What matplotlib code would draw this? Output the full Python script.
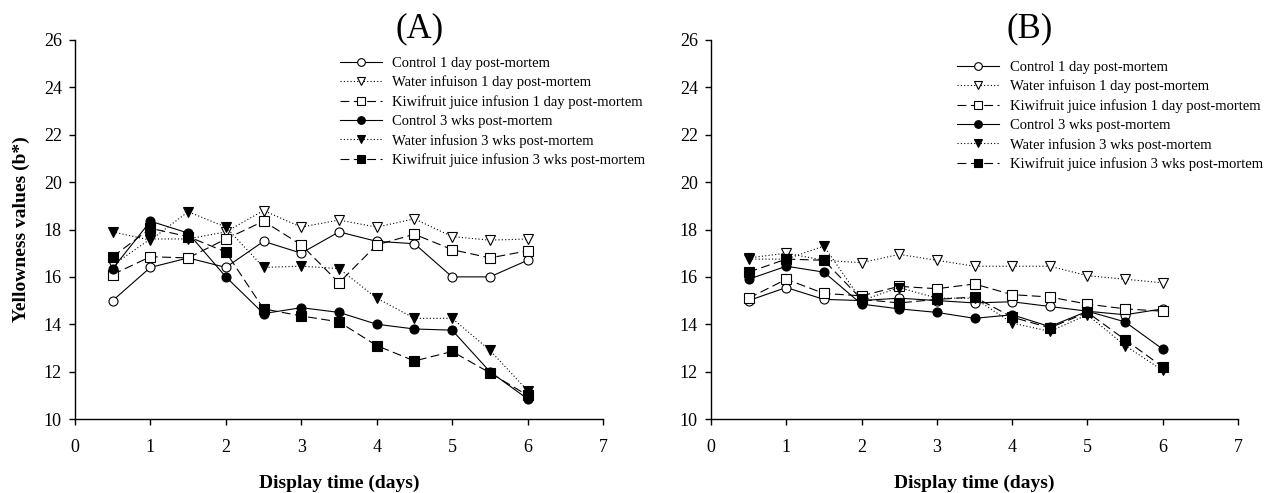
import matplotlib
matplotlib.use("Agg")
import matplotlib.pyplot as plt

plt.rcParams['font.family'] = ['Liberation Serif', 'DejaVu Serif']

days = [0.5, 1, 1.5, 2, 2.5, 3, 3.5, 4, 4.5, 5, 5.5, 6]

labels = [
    "Control 1 day post-mortem",
    "Water infuison 1 day post-mortem",
    "Kiwifruit juice infusion 1 day post-mortem",
    "Control 3 wks post-mortem",
    "Water infusion 3 wks post-mortem",
    "Kiwifruit juice infusion 3 wks post-mortem",
]

# Panel A
a_control_1d = [15.0, 16.4, 16.8, 16.4, 17.5, 17.0, 17.9, 17.5, 17.4, 16.0, 16.0, 16.7]
a_water_1d = [16.5, 17.6, 17.6, 17.9, 18.8, 18.1, 18.4, 18.1, 18.45, 17.7, 17.55, 17.6]
a_kiwi_1d = [16.1, 16.85, 16.8, 17.6, 18.35, 17.35, 15.75, 17.35, 17.8, 17.15, 16.8, 17.1]
a_control_3w = [16.35, 18.35, 17.85, 16.0, 14.45, 14.7, 14.5, 14.0, 13.8, 13.75, 12.0, 10.85]
a_water_3w = [17.9, 17.55, 18.75, 18.1, 16.4, 16.45, 16.35, 15.1, 14.25, 14.25, 12.9, 11.2]
a_kiwi_3w = [16.85, 18.05, 17.7, 17.05, 14.65, 14.35, 14.1, 13.1, 12.45, 12.85, 11.95, 11.0]

# Panel B
b_control_1d = [15.0, 15.55, 15.05, 15.0, 15.1, 15.0, 14.9, 14.95, 14.75, 14.55, 14.4, 14.65]
b_water_1d = [16.8, 17.0, 16.7, 16.6, 16.95, 16.7, 16.45, 16.45, 16.45, 16.05, 15.9, 15.75]
b_kiwi_1d = [15.1, 15.9, 15.3, 15.2, 15.6, 15.5, 15.7, 15.25, 15.15, 14.85, 14.65, 14.55]
b_control_3w = [15.9, 16.45, 16.2, 14.85, 14.65, 14.5, 14.25, 14.4, 13.9, 14.55, 14.1, 12.95]
b_water_3w = [16.75, 16.75, 17.3, 15.0, 15.55, 15.1, 15.1, 14.05, 13.7, 14.4, 13.1, 12.05]
b_kiwi_3w = [16.2, 16.75, 16.7, 15.05, 14.9, 15.05, 15.15, 14.3, 13.85, 14.5, 13.35, 12.2]

x_ticks = [0, 1, 2, 3, 4, 5, 6, 7]
y_ticks = [10, 12, 14, 16, 18, 20, 22, 24, 26]

styles = [
    dict(linestyle='-', marker='o', mfc='white'),
    dict(linestyle=(0, (1, 2)), marker='v', mfc='white'),
    dict(linestyle=(0, (8, 4)), marker='s', mfc='white'),
    dict(linestyle='-', marker='o', mfc='black'),
    dict(linestyle=(0, (1, 2)), marker='v', mfc='black'),
    dict(linestyle=(0, (8, 4)), marker='s', mfc='black'),
]

fig = plt.figure(figsize=(12.8, 4.93), dpi=100)
W, H = 1280, 493


def make_axes(left_px, right_px, series, legend_xy, title, title_xy, ylabel):
    ax = fig.add_axes([left_px / W, (H - 419) / H, (right_px - left_px) / W, 379 / H])
    for vals, lab, st in zip(series, labels, styles):
        ax.plot(days, vals, color='black', linewidth=0.8, markersize=6.5,
                mec='black', mew=0.8, label=lab, **st)
    ax.set_xlim(0, 7)
    ax.set_ylim(10, 26)
    ax.set_xticks(x_ticks)
    ax.set_yticks(y_ticks)
    for s in ('top', 'right'):
        ax.spines[s].set_visible(False)
    for s in ('left', 'bottom'):
        ax.spines[s].set_linewidth(1.0)
    ax.tick_params(axis='both', direction='out', length=4.5, width=1.0, labelsize=13)
    ax.tick_params(axis='x', pad=10)
    ax.tick_params(axis='y', pad=5)
    ax.set_xlabel("Display time (days)", fontsize=14, fontweight='bold', labelpad=13)
    if ylabel:
        ax.set_ylabel(ylabel, fontsize=14, fontweight='bold', labelpad=10)
    ax.legend(loc='upper left', bbox_to_anchor=(legend_xy[0] / W, 1 - legend_xy[1] / H),
              bbox_transform=fig.transFigure, frameon=False, fontsize=10.5,
              handlelength=2.9, handletextpad=0.7, labelspacing=0.4,
              borderpad=0, borderaxespad=0, markerscale=0.85)
    fig.text(title_xy[0] / W, 1 - title_xy[1] / H, title, fontsize=25,
             ha='center', va='center')
    return ax


make_axes(75, 603, [a_control_1d, a_water_1d, a_kiwi_1d, a_control_3w, a_water_3w, a_kiwi_3w],
          (340, 56.5), "(A)", (420, 29), "Yellowness values (b*)")
make_axes(711, 1238, [b_control_1d, b_water_1d, b_kiwi_1d, b_control_3w, b_water_3w, b_kiwi_3w],
          (957, 60.5), "(B)", (1030, 29), None)

fig.savefig("out.png", dpi=100)
